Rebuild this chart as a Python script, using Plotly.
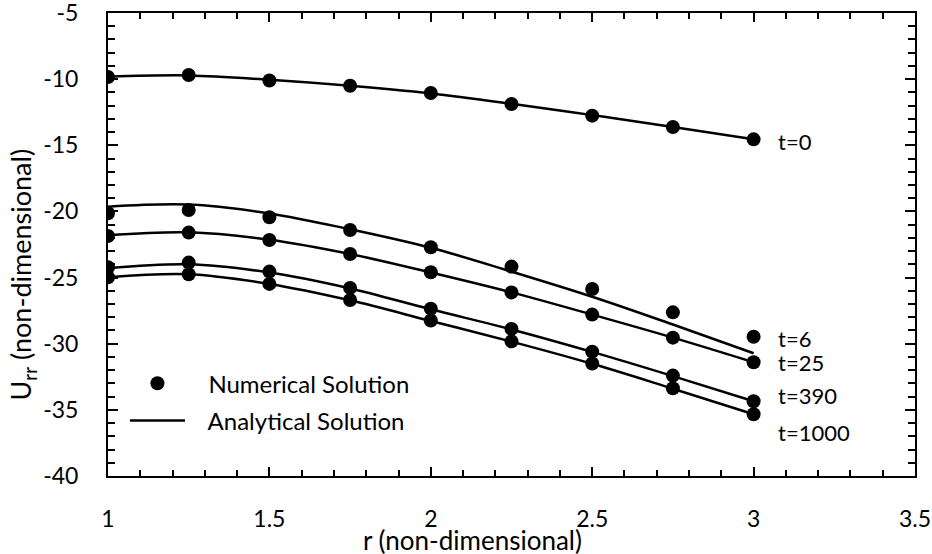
import plotly.graph_objects as go

# Radial positions (non-dimensional)
r = [1.0, 1.25, 1.5, 1.75, 2.0, 2.25, 2.5, 2.75, 3.0]

# Numerical solution, U_rr at each time
num_t0 = [-9.84, -9.69, -10.10, -10.50, -11.05, -11.88, -12.76, -13.62, -14.55]
num_t6 = [-20.14, -19.89, -20.44, -21.40, -22.71, -24.17, -25.86, -27.63, -29.47]
num_t25 = [-21.86, -21.60, -22.16, -23.22, -24.60, -26.12, -27.80, -29.54, -31.40]
num_t390 = [-24.22, -23.87, -24.55, -25.78, -27.35, -28.88, -30.60, -32.41, -34.35]
num_t1000 = [-24.98, -24.75, -25.48, -26.70, -28.25, -29.82, -31.50, -33.37, -35.33]

# Analytical solution, U_rr at each time
ana_t0 = [-9.82, -9.72, -10.05, -10.50, -11.08, -11.86, -12.72, -13.62, -14.55]
ana_t6 = [-19.64, -19.48, -20.15, -21.35, -22.75, -24.55, -26.45, -28.55, -30.72]
ana_t25 = [-21.80, -21.58, -22.14, -23.22, -24.62, -26.12, -27.80, -29.54, -31.40]
ana_t390 = [-24.30, -24.00, -24.62, -25.82, -27.40, -28.92, -30.62, -32.45, -34.35]
ana_t1000 = [-24.98, -24.75, -25.48, -26.72, -28.28, -29.84, -31.52, -33.40, -35.33]

time_labels = ["t=0", "t=6", "t=25", "t=390", "t=1000"]
label_y = [-14.68, -29.60, -31.40, -33.95, -36.70]

# Axis ticks
x_tickvals = [1, 1.5, 2, 2.5, 3, 3.5]
x_ticktext = ["1", "1.5", "2", "2.5", "3", "3.5"]
y_tickvals = [-40, -35, -30, -25, -20, -15, -10, -5]
y_ticktext = ["-40", "-35", "-30", "-25", "-20", "-15", "-10", "-5"]

numerical = [num_t0, num_t6, num_t25, num_t390, num_t1000]
analytical = [ana_t0, ana_t6, ana_t25, ana_t390, ana_t1000]

FONT = "Lato"
NBSP = "&nbsp;" * 3

fig = go.Figure()

for i, ys in enumerate(analytical):
    fig.add_trace(go.Scatter(
        x=r, y=ys, mode="lines", line=dict(color="black", width=2.5, shape="spline"),
        name=NBSP + "Analytical Solution", showlegend=(i == 0), legendgroup="ana", legendrank=2,
    ))

for i, ys in enumerate(numerical):
    fig.add_trace(go.Scatter(
        x=r, y=ys, mode="markers", marker=dict(color="black", size=14),
        name=NBSP + "Numerical Solution", showlegend=(i == 0), legendgroup="num", legendrank=1,
    ))

for lab, ly in zip(time_labels, label_y):
    fig.add_annotation(x=3.07, y=ly, text=lab, showarrow=False, xanchor="left",
                       yanchor="middle", font=dict(family=FONT, size=22, color="black"))

# Axis titles
fig.add_annotation(xref="paper", yref="paper", x=0.452, y=-0.139, xanchor="center", yanchor="middle",
                   text="r (non-dimensional)", showarrow=False,
                   font=dict(family=FONT, size=26, color="black"))
fig.add_annotation(xref="paper", yref="paper", x=-0.106, y=0.436, xanchor="center", yanchor="middle",
                   text="U<sub>rr</sub> (non-dimensional)", showarrow=False, textangle=-90,
                   font=dict(family=FONT, size=27, color="black"))

axis_common = dict(
    showline=True, linecolor="black", linewidth=2, mirror="ticks", automargin=False,
    ticks="inside", tickcolor="black", tickwidth=2, showgrid=False, zeroline=False,
    ticklabeloverflow="allow",
    tickfont=dict(family=FONT, size=23, color="black"),
)

fig.update_xaxes(
    range=[1, 3.5], tickvals=x_tickvals, ticktext=x_ticktext, ticklen=9,
    minor=dict(dtick=0.1, tick0=1, ticks="inside", ticklen=6, tickcolor="black", tickwidth=1.5, showgrid=False),
    ticklabelstandoff=21,
    **axis_common,
)
fig.update_yaxes(
    range=[-40, -5], tickvals=y_tickvals, ticktext=y_ticktext, ticklen=10,
    minor=dict(dtick=1, tick0=-40, ticks="inside", ticklen=7, tickcolor="black", tickwidth=1.5, showgrid=False),
    ticklabelstandoff=23,
    **axis_common,
)

fig.update_layout(
    width=932, height=554,
    margin=dict(l=108, r=17, t=13, b=78),
    plot_bgcolor="white", paper_bgcolor="white",
    legend=dict(x=0.021, y=0.248, xanchor="left", yanchor="top", bgcolor="rgba(0,0,0,0)",
                font=dict(family=FONT, size=24, color="black"), traceorder="grouped",
                tracegroupgap=3, itemwidth=55),
)

fig.write_html("out.html")
